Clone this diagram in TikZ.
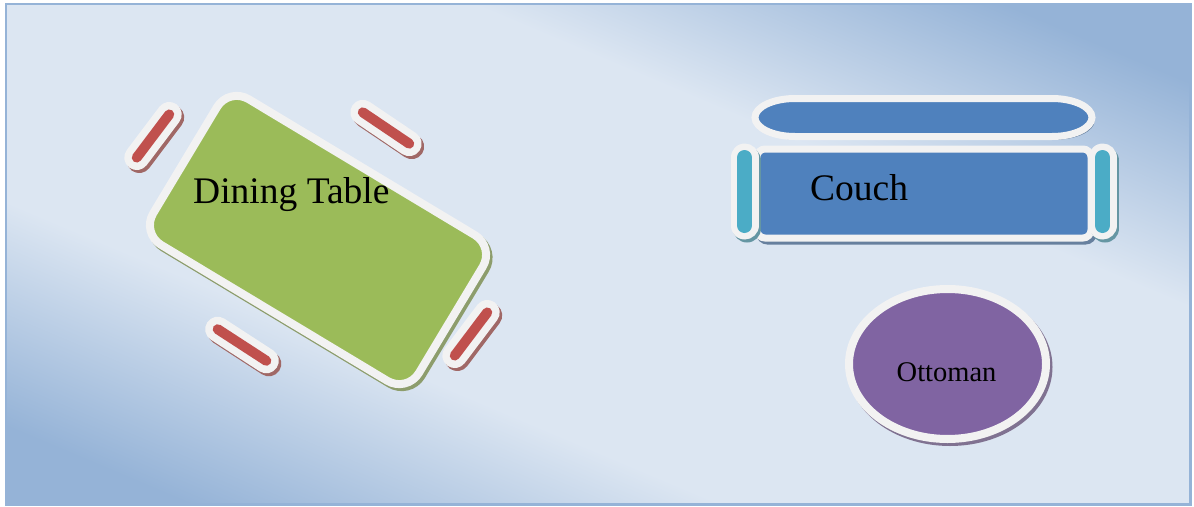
\documentclass[tikz,border=0pt]{standalone}
\usepackage{fontspec}
\setmainfont{Liberation Serif}
\usepackage{tikz}
\usetikzlibrary{positioning,shapes.geometric}

\definecolor{chiaro}{HTML}{DCE6F2}
\definecolor{scuro}{HTML}{95B3D7}
\definecolor{bordo}{HTML}{F2F2F2}
\definecolor{verde}{HTML}{9BBB59}
\definecolor{rosso}{HTML}{C0504D}
\definecolor{blu}{HTML}{4F81BD}
\definecolor{azzurro}{HTML}{4BACC6}
\definecolor{viola}{HTML}{8064A2}

\pgfdeclarehorizontalshading{stanza}{100bp}{color(0bp)=(scuro); color(20bp)=(scuro); color(36bp)=(chiaro); color(64bp)=(chiaro); color(80bp)=(scuro); color(100bp)=(scuro)}

\tikzset{
  pezzo/.style={draw=bordo, line width=8pt, fill=#1, inner sep=0pt,
    preaction={draw=#1!50!gray, fill=#1!50!gray, transform canvas={xshift=2.5pt, yshift=-3pt}}},
  sedia/.style={draw=rosso, line width=10pt, line cap=round,
    preaction={draw=rosso!50!gray, line width=25pt, line cap=round, transform canvas={xshift=2.5pt, yshift=-3pt}},
    preaction={draw=bordo, line width=25pt, line cap=round}},
  bracciolo/.style={draw=azzurro, line width=15pt, line cap=round,
    preaction={draw=azzurro!50!gray, line width=28pt, line cap=round, transform canvas={xshift=2.5pt, yshift=-3pt}},
    preaction={draw=bordo, line width=28pt, line cap=round}},
  testo/.style={inner sep=0pt, anchor=base west, text=black}
}

\begin{document}
\begin{tikzpicture}[x=1pt, y=-1pt]
    \useasboundingbox (0,0) rectangle (1194,506);
    %stanza
    \begin{scope}[transform canvas={shift={(598.25,254.25)}, xscale=5.9225, yscale=2.5025}]
      \path[shade, shading=stanza, shading angle=45] (-100,-100) rectangle (100,100);
    \end{scope}
    \draw[draw=scuro, line width=2.5pt] (6,4) rectangle (1190.5,504.5);

    %tavolo
    \node[pezzo=verde, rectangle, rounded corners=23pt, minimum width=310pt, minimum height=170pt, rotate=-31] (tavolo) at (318,240) {};

    %sedie
    \foreach \cx/\cy/\ang/\mezza in {153/136/53/27, 386/128/-34/28, 242/345/-33/29, 471/334/53/27}
      \draw[sedia, rotate around={\ang:(\cx,\cy)}] (\cx-\mezza,\cy) -- (\cx+\mezza,\cy);

    %divano
    \draw[pezzo=blu, line width=7pt] (795,98.5) -- (1052,98.5)
      arc[start angle=-90, end angle=90, x radius=40, y radius=19] -- (795,136.5)
      arc[start angle=90, end angle=270, x radius=40, y radius=19] -- cycle;
    \node[pezzo=blu, line width=7pt, rectangle, rounded corners=8pt, minimum width=334pt, minimum height=89pt] (seduta) at (924,193.5) {};
    \draw[bracciolo] (744.5,157.5) -- (744.5,225.5);
    \draw[bracciolo] (1102.5,157.5) -- (1102.5,225.5);

    %pouf
    \node[pezzo=viola, ellipse, minimum width=197pt, minimum height=150pt] (pouf) at (947.5,364) {};

    %scritte
    \node[testo, font=\fontsize{37.5}{40}\selectfont] (nometavolo) at (193,203) {Dining Table};
    \node[testo, font=\fontsize{37.5}{40}\selectfont] (nomedivano) at (810,200) {Couch};
    \node[testo, font=\fontsize{28.5}{30}\selectfont] (nomepouf) at (896.5,381.7) {Ottoman};
\end{tikzpicture}
\end{document}
